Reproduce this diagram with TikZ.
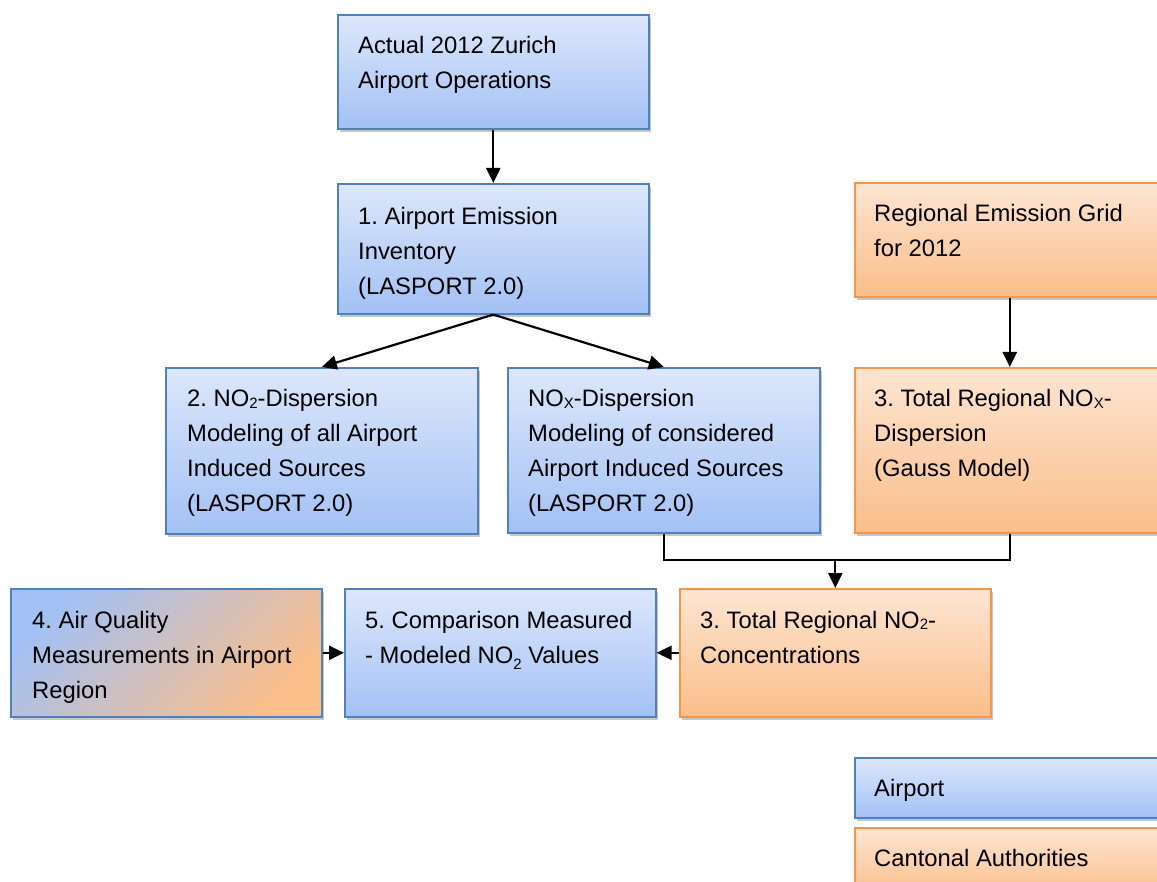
\documentclass[tikz,border=0pt]{standalone}
\usepackage{fontspec}
\setmainfont{Liberation Sans}
\usetikzlibrary{arrows.meta,shadows,calc}
\definecolor{bluetop}{HTML}{DDE7FB}
\definecolor{bluebot}{HTML}{A3C1F5}
\definecolor{blueline}{HTML}{4F81BD}
\definecolor{orangetop}{HTML}{FDE5D2}
\definecolor{orangebot}{HTML}{FBBE8A}
\definecolor{orangeline}{HTML}{F79646}
\newcommand{\subsm}[1]{\raisebox{-0.12ex}{\fontsize{15}{15}\selectfont #1}}
\newcommand{\subdeep}[1]{\raisebox{-0.5ex}{\fontsize{15}{15}\selectfont #1}}
\newcommand{\boxtext}[1]{\parbox[t]{300pt}{\raggedright\frenchspacing #1}}
\tikzset{
  box/.style={rectangle, anchor=north west, inner sep=0pt, line width=1.6pt,
    drop shadow={shadow xshift=2pt, shadow yshift=-3pt, opacity=0.22, fill=black}},
  bluebox/.style={box, draw=blueline, top color=bluetop, bottom color=bluebot},
  orangebox/.style={box, draw=orangeline, top color=orangetop, bottom color=orangebot},
  mixbox/.style={box, draw=blueline, top color=bluebot, bottom color=orangebot, shading angle=45},
  boxlabel/.style={anchor=base west, inner sep=0pt, font=\fontsize{23.8}{35}\selectfont},
  conn/.style={line width=2.2pt, -{Triangle[length=15pt,width=14pt]}},
  plainline/.style={line width=2.2pt}
}
\begin{document}
\begin{tikzpicture}[x=1pt,y=-1pt]
\useasboundingbox (0,0) rectangle (1157,882);
% boxes
\node[bluebox, minimum width=311pt, minimum height=114pt] (a) at (337,14) {};
\node[bluebox, minimum width=311pt, minimum height=130pt] (b1) at (337,183) {};
\node[bluebox, minimum width=312pt, minimum height=166pt] (b2) at (165,367) {};
\node[bluebox, minimum width=312pt, minimum height=165pt] (nox) at (507,367) {};
\node[orangebox, minimum width=310pt, minimum height=114pt] (reg) at (854,182) {};
\node[orangebox, minimum width=310pt, minimum height=165pt] (t3) at (854,367) {};
\node[mixbox, minimum width=311pt, minimum height=128pt] (b4) at (10,588) {};
\node[bluebox, minimum width=311pt, minimum height=128pt] (b5) at (344,588) {};
\node[orangebox, minimum width=311pt, minimum height=128pt] (c3) at (679,588) {};
\node[bluebox, minimum width=310pt, minimum height=60pt] (lga) at (854,757) {};
\node[orangebox, minimum width=310pt, minimum height=70pt] (lgc) at (854,827) {};
% texts
\node[boxlabel] (ta) at ($(a.north west)+(21,40)$) {\boxtext{Actual 2012 Zurich\\Airport Operations}};
\node[boxlabel] (tb1) at ($(b1.north west)+(21,42)$) {\boxtext{1. Airport Emission\\Inventory\\(LASPORT 2.0)}};
\node[boxlabel] (tb2) at ($(b2.north west)+(22,40)$) {\boxtext{2. NO\subsm{2}-Dispersion\\Modeling of all Airport\\Induced Sources\\(LASPORT 2.0)}};
\node[boxlabel] (tnox) at ($(nox.north west)+(21,40)$) {\boxtext{NO\subsm{X}-Dispersion\\Modeling of considered\\Airport Induced Sources\\(LASPORT 2.0)}};
\node[boxlabel] (treg) at ($(reg.north west)+(20,40)$) {\boxtext{Regional Emission Grid\\for 2012}};
\node[boxlabel] (tt3) at ($(t3.north west)+(20,40)$) {\boxtext{3. Total Regional NO\subsm{X}-\\Dispersion\\(Gauss Model)}};
\node[boxlabel] (tb4) at ($(b4.north west)+(22,40)$) {\boxtext{4. Air Quality\\Measurements in Airport\\Region}};
\node[boxlabel] (tb5) at ($(b5.north west)+(21,40)$) {\boxtext{5. Comparison Measured\\- Modeled NO\subdeep{2} Values}};
\node[boxlabel] (tc3) at ($(c3.north west)+(21,40)$) {\boxtext{3. Total Regional NO\subsm{2}-\\Concentrations}};
\node[boxlabel] (tlga) at ($(lga.north west)+(20,39)$) {Airport};
\node[boxlabel] (tlgc) at ($(lgc.north west)+(20,39)$) {Cantonal Authorities};
% connectors
\coordinate (jy) at (0,560);
\coordinate (j) at (c3.north |- jy);
\draw[conn] (a.south) -- (b1.north);
\draw[conn] (b1.south) -- (b2.north);
\draw[conn] (b1.south) -- (nox.north);
\draw[conn] (reg.south) -- (t3.north);
\draw[plainline] (nox.south) -- (nox.south |- jy) -- (t3.south |- jy) -- (t3.south);
\draw[conn] (j) -- (c3.north);
\draw[conn] (b4.east) -- (b5.west);
\draw[conn] (c3.west) -- (b5.east);
\end{tikzpicture}
\end{document}
